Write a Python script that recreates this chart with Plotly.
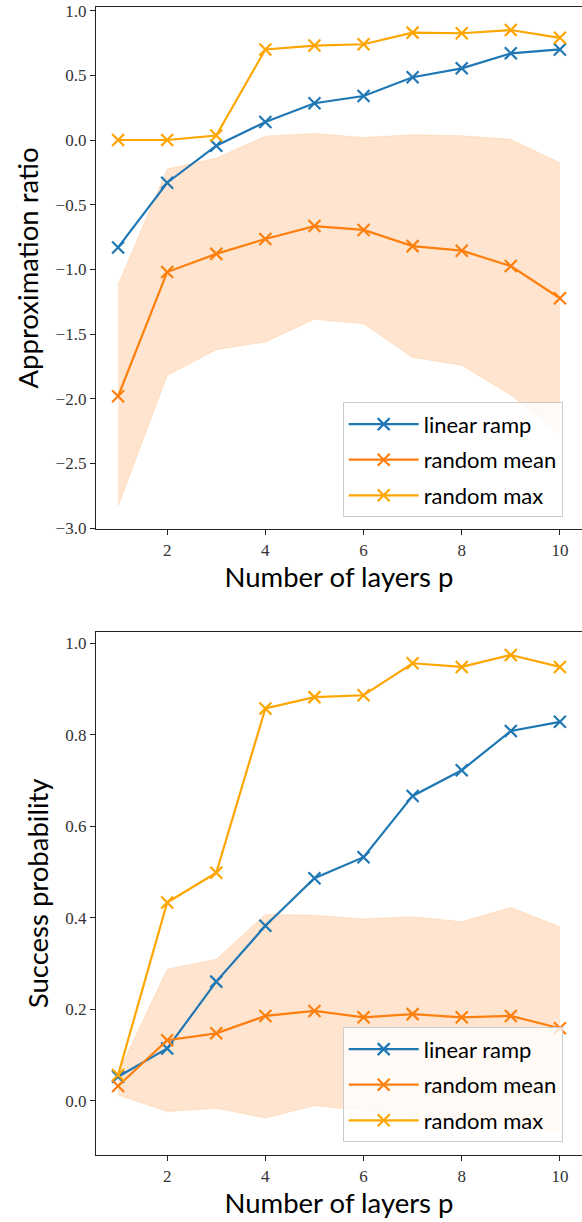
import plotly.graph_objects as go

layers = [1, 2, 3, 4, 5, 6, 7, 8, 9, 10]

# Top panel: approximation ratio
ar_linear = [-0.83, -0.33, -0.044, 0.14, 0.284, 0.34, 0.485, 0.554, 0.67, 0.70]
ar_rand_mean = [-1.98, -1.02, -0.88, -0.765, -0.665, -0.695, -0.82, -0.855, -0.974, -1.223]
ar_rand_max = [0.0, 0.0, 0.035, 0.70, 0.73, 0.74, 0.83, 0.825, 0.85, 0.79]
ar_band_upper = [-1.12, -0.224, -0.14, 0.03, 0.05, 0.02, 0.04, 0.033, 0.005, -0.175]
ar_band_lower = [-2.83, -1.82, -1.62, -1.56, -1.386, -1.42, -1.68, -1.74, -1.97, -2.27]
ar_ticks = [1.0, 0.5, 0.0, -0.5, -1.0, -1.5, -2.0, -2.5, -3.0]

# Bottom panel: success probability
sp_linear = [0.052, 0.114, 0.26, 0.382, 0.486, 0.532, 0.666, 0.722, 0.808, 0.828]
sp_rand_mean = [0.032, 0.132, 0.147, 0.185, 0.196, 0.182, 0.189, 0.182, 0.185, 0.158]
sp_rand_max = [0.056, 0.433, 0.498, 0.857, 0.882, 0.886, 0.956, 0.948, 0.974, 0.948]
sp_band_upper = [0.06, 0.287, 0.309, 0.407, 0.405, 0.397, 0.402, 0.391, 0.422, 0.38]
sp_band_lower = [0.012, -0.024, -0.017, -0.038, -0.011, -0.022, -0.035, -0.045, -0.055, -0.068]
sp_ticks = [0.0, 0.2, 0.4, 0.6, 0.8, 1.0]

x_ticks = [2, 4, 6, 8, 10]

C_LIN = "#1f77b4"
C_MEAN = "#ff7f0e"
C_MAX = "#ffa500"
C_BAND = "rgba(255,127,14,0.2)"

SANS = "Lato, 'Open Sans', sans-serif"
SERIF = "'Liberation Serif', 'DejaVu Serif', serif"

fig = go.Figure()


def add_panel(xa, ya, lin, mean, mx, lo, hi, legend_name):
    fig.add_trace(go.Scatter(x=layers, y=lo, xaxis=xa, yaxis=ya, mode="lines",
                             line=dict(color=C_BAND, width=0.8), showlegend=False,
                             hoverinfo="skip"))
    fig.add_trace(go.Scatter(x=layers, y=hi, xaxis=xa, yaxis=ya, mode="lines",
                             line=dict(color=C_BAND, width=0.8), fill="tonexty",
                             fillcolor=C_BAND, showlegend=False, hoverinfo="skip"))
    for name, ys, col in [("linear ramp", lin, C_LIN),
                          ("random mean", mean, C_MEAN),
                          ("random max", mx, C_MAX)]:
        fig.add_trace(go.Scatter(
            x=layers, y=ys, xaxis=xa, yaxis=ya, mode="lines+markers", name=name,
            legend=legend_name, legendgroup=legend_name + name, showlegend=True,
            line=dict(color=col, width=2.2),
            marker=dict(symbol="x-thin", size=12, color=col,
                        line=dict(color=col, width=2.2))))


add_panel("x", "y", ar_linear, ar_rand_mean, ar_rand_max,
          ar_band_lower, ar_band_upper, "legend")
add_panel("x2", "y2", sp_linear, sp_rand_mean, sp_rand_max,
          sp_band_lower, sp_band_upper, "legend2")

H = 1222.0
W = 582.0


def py(pix):
    return 1 - pix / H


axis_common = dict(showgrid=False, zeroline=False, showline=True, linecolor="#222",
                   linewidth=1.3, ticks="outside", ticklen=5, tickwidth=1.1,
                   tickcolor="#222", automargin=False,
                   tickfont=dict(family=SERIF, size=17, color="#333"))

title_font = dict(family=SANS, size=27.5, color="black")

legend_common = dict(xanchor="left", yanchor="bottom", traceorder="grouped",
                     bgcolor="rgba(255,255,255,0.8)", bordercolor="#cccccc", borderwidth=1,
                     font=dict(family=SANS, size=22, color="black"), tracegroupgap=4,
                     itemwidth=70, groupclick="toggleitem")

fig.update_layout(
    width=582, height=1222,
    margin=dict(l=0, r=0, t=0, b=0),
    paper_bgcolor="white", plot_bgcolor="white",
    xaxis=dict(domain=[96 / W, 1.0], anchor="y", range=[0.55, 10.45],
               tickvals=x_ticks, mirror=True,
               title=dict(text="Number of layers p", font=title_font, standoff=6),
               **axis_common),
    yaxis=dict(domain=[py(529), py(7)], anchor="x", range=[-3.006, 1.028],
               tickvals=ar_ticks, tickformat=".1f",
               title=dict(text="Approximation ratio", font=title_font, standoff=8),
               **axis_common),
    xaxis2=dict(domain=[96 / W, 1.0], anchor="y2", range=[0.55, 10.45],
                tickvals=x_ticks, mirror=True,
                title=dict(text="Number of layers p", font=title_font, standoff=6),
                **axis_common),
    yaxis2=dict(domain=[py(1155), py(631.7)], anchor="x2", range=[-0.119, 1.025],
                tickvals=sp_ticks, tickformat=".1f",
                title=dict(text="Success probability", font=title_font, standoff=8),
                **axis_common),
    legend=dict(x=342.7 / W, y=py(517.3), **legend_common),
    legend2=dict(x=342.7 / W, y=py(1142.3), **legend_common),
)

fig.write_html(
    "out.html",
    config={"displayModeBar": False},
    post_script="document.body.style.margin='0';document.body.style.overflow='hidden';",
)
